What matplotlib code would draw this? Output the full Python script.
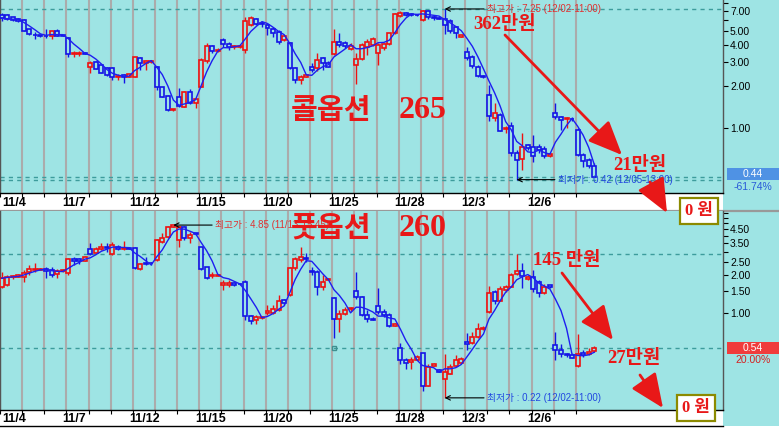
import numpy as np
import pandas as pd
import matplotlib
matplotlib.use("Agg")
import matplotlib.pyplot as plt
from matplotlib.ticker import FixedLocator, FixedFormatter, NullFormatter
from matplotlib.patches import Rectangle, FancyArrowPatch
from matplotlib.lines import Line2D

plt.rcParams['font.family'] = ['Liberation Sans', 'Noto Sans CJK KR', 'DejaVu Sans']

W, H = 779, 429
BG = "#9ee4e4"
RED = "#ee1111"
BLUE = "#1414e6"
MA_COLOR = "#1e1ef0"
GRID = "#ababab"
DASH = "#3d9c9c"
ANNO_RED = "#e81818"
BIG_FONT = ["Liberation Serif", "Noto Sans CJK KR"]
HANGUL_FONT = ["Noto Sans CJK KR"]
SMALL_FONT = ["Liberation Sans", "Noto Sans CJK KR"]

# ---------------- data ----------------
days = ['11/4', '11/5', '11/6', '11/7', '11/8', '11/11', '11/12', '11/13', '11/14',
        '11/15', '11/18', '11/19', '11/20', '11/21', '11/22', '11/25', '11/26',
        '11/27', '11/28', '11/29', '12/2', '12/3', '12/4', '12/5', '12/6', '12/9', '12/10']
label_days = ['11/4', '11/7', '11/12', '11/15', '11/20', '11/25', '11/28', '12/3', '12/6']
bars_per_day = 4
ma_period = 4

# Call option 265 (2-hour candles)
call_open = [6.60, 6.56, 6.31, 6.10, 6.03, 5.16, 4.73, 4.68, 4.65, 4.62, 5.02, 4.68,
             4.45, 3.44, 3.44, 3.48, 2.73, 2.98, 2.83, 2.70, 2.70, 2.32, 2.41, 2.32,
             2.34, 3.21, 2.96, 3.00, 2.77, 1.96, 1.70, 1.34, 1.66, 1.42, 1.80, 1.50,
             1.98, 3.02, 3.91, 3.60, 4.32, 4.07, 3.85, 3.85, 3.66, 5.55, 6.10, 5.77,
             5.52, 5.22, 4.97, 4.32, 4.09, 2.70, 2.22, 2.34, 2.77, 2.70, 3.18, 2.93,
             3.42, 4.20, 4.09, 3.70, 2.85, 3.13, 3.87, 3.98, 3.50, 3.76, 4.04, 4.83,
             6.45, 6.74, 6.67, 6.60, 6.03, 6.98, 6.38, 6.24, 6.13, 5.97, 5.34, 4.57,
             3.56, 3.23, 2.77, 2.37, 1.73, 1.17, 1.24, 0.97, 1.02, 0.65, 0.59, 0.75,
             0.73, 0.73, 0.70, 0.62, 1.28, 1.19, 1.15, 1.16, 0.96, 0.63, 0.58, 0.53]
call_high = [6.74, 6.67, 6.38, 6.20, 6.10, 5.22, 4.94, 4.73, 5.16, 5.02, 5.16, 4.70,
             4.52, 3.62, 3.58, 3.52, 3.02, 3.04, 2.88, 2.77, 2.77, 2.45, 2.45, 2.45,
             3.27, 3.27, 3.09, 3.07, 2.80, 1.98, 1.72, 1.37, 1.93, 1.83, 1.90, 1.62,
             3.18, 4.09, 3.98, 3.76, 4.45, 4.20, 4.00, 3.96, 6.38, 6.45, 6.24, 5.97,
             5.65, 5.40, 5.10, 4.70, 4.20, 2.74, 2.41, 2.45, 2.96, 3.50, 3.27, 3.02,
             5.16, 4.88, 4.27, 4.09, 3.46, 4.09, 4.37, 4.52, 4.09, 4.14, 4.88, 6.82,
             7.02, 6.89, 6.82, 6.67, 7.13, 7.13, 6.56, 6.38, 7.25, 6.10, 5.46, 4.73,
             3.87, 3.37, 2.85, 2.41, 2.04, 1.50, 1.27, 1.03, 1.09, 0.69, 0.91, 0.76,
             0.89, 0.76, 0.74, 0.65, 1.50, 1.21, 1.20, 1.19, 0.99, 0.65, 0.60, 0.55]
call_low = [5.93, 6.03, 5.93, 5.87, 5.05, 4.73, 4.42, 4.57, 4.45, 4.37, 4.62, 4.60,
            3.23, 3.27, 3.31, 3.40, 2.51, 2.65, 2.48, 2.37, 2.20, 2.22, 2.12, 2.31,
            2.32, 2.62, 2.62, 2.96, 1.88, 1.66, 1.33, 1.33, 1.40, 1.40, 1.48, 1.38,
            1.96, 2.96, 3.50, 3.56, 3.87, 3.66, 3.74, 3.78, 3.46, 5.46, 5.59, 5.40,
            4.70, 4.57, 4.04, 4.27, 2.65, 2.12, 2.07, 2.32, 2.55, 2.59, 2.62, 2.74,
            3.37, 3.87, 3.76, 3.66, 2.07, 3.09, 3.37, 3.91, 2.85, 3.66, 3.98, 4.78,
            6.38, 6.45, 6.49, 6.45, 5.97, 6.17, 6.03, 6.10, 4.78, 4.83, 4.45, 4.52,
            3.09, 2.70, 2.32, 2.28, 1.11, 1.11, 0.94, 0.91, 0.62, 0.42, 0.49, 0.69,
            0.56, 0.66, 0.60, 0.61, 1.15, 0.96, 0.99, 1.12, 0.62, 0.52, 0.51, 0.44]
call_close = [6.20, 6.10, 6.03, 5.97, 5.05, 4.78, 4.68, 4.62, 4.60, 5.02, 4.65, 4.62,
              3.42, 3.48, 3.50, 3.44, 2.96, 2.67, 2.51, 2.41, 2.32, 2.37, 2.32, 2.44,
              3.23, 2.96, 3.02, 3.04, 1.96, 1.68, 1.34, 1.36, 1.44, 1.80, 1.52, 1.61,
              3.09, 3.91, 3.62, 3.66, 4.02, 3.87, 3.89, 3.89, 5.97, 6.20, 5.65, 5.65,
              5.25, 4.83, 4.20, 4.62, 2.70, 2.22, 2.34, 2.40, 2.62, 3.09, 2.96, 2.77,
              4.20, 3.98, 3.91, 3.91, 3.13, 3.98, 4.20, 4.37, 3.98, 4.04, 4.83, 6.67,
              6.82, 6.60, 6.56, 6.52, 7.02, 6.31, 6.24, 6.17, 5.55, 5.05, 4.88, 4.68,
              3.18, 2.80, 2.37, 2.32, 1.21, 1.27, 0.95, 1.00, 0.65, 0.58, 0.73, 0.71,
              0.62, 0.69, 0.62, 0.64, 1.19, 1.14, 1.18, 1.15, 0.63, 0.57, 0.53, 0.44]

# Put option 260 (2-hour candles)
put_open = [1.61, 1.66, 1.90, 1.93, 1.91, 2.11, 2.17, 2.18, 2.20, 2.17, 2.03, 2.12,
            2.07, 2.63, 2.63, 2.57, 3.15, 2.96, 3.15, 3.30, 2.90, 3.30, 3.17, 3.22,
            3.20, 2.20, 2.48, 2.47, 2.60, 3.61, 3.89, 4.72, 3.68, 4.66, 3.83, 4.19,
            3.26, 2.27, 1.95, 1.96, 1.66, 1.67, 1.71, 1.70, 1.76, 0.95, 0.88, 0.92,
            1.01, 1.01, 1.06, 1.27, 1.39, 2.23, 2.60, 2.71, 2.15, 2.11, 1.61, 1.82,
            1.31, 0.90, 0.99, 1.07, 1.50, 1.33, 0.97, 0.91, 1.14, 1.03, 0.97, 0.80,
            0.54, 0.43, 0.42, 0.43, 0.49, 0.27, 0.39, 0.36, 0.31, 0.34, 0.39, 0.41,
            0.60, 0.59, 0.65, 0.76, 1.03, 1.47, 1.25, 1.52, 1.61, 2.03, 2.15, 1.84,
            1.93, 1.76, 1.43, 1.65, 0.57, 0.52, 0.48, 0.47, 0.39, 0.49, 0.48, 0.51]
put_high = [2.11, 1.99, 1.99, 2.03, 2.17, 2.37, 2.45, 2.23, 2.30, 2.27, 2.20, 2.20,
            2.68, 2.76, 2.68, 2.79, 3.54, 3.26, 3.50, 3.54, 3.61, 3.40, 3.67, 3.26,
            3.26, 2.48, 2.76, 2.52, 3.76, 4.19, 4.80, 4.85, 4.78, 4.78, 4.31, 4.24,
            3.30, 2.30, 2.11, 2.01, 1.82, 1.80, 1.75, 1.73, 1.82, 0.97, 0.97, 0.95,
            1.16, 1.16, 1.39, 1.28, 2.27, 2.76, 3.26, 2.93, 2.30, 2.17, 1.99, 1.88,
            1.34, 1.06, 1.12, 1.12, 2.11, 1.36, 1.06, 0.93, 1.56, 1.07, 1.00, 0.84,
            0.59, 0.45, 0.46, 0.47, 0.49, 0.40, 0.41, 0.37, 0.48, 0.40, 0.47, 0.46,
            0.70, 0.72, 0.84, 0.79, 1.63, 1.52, 1.63, 1.66, 2.07, 2.90, 2.45, 1.99,
            2.17, 1.80, 1.69, 1.67, 0.72, 0.58, 0.49, 0.48, 0.69, 0.52, 0.54, 0.56]
put_low = [1.56, 1.63, 1.85, 1.91, 1.76, 1.99, 2.10, 2.16, 1.87, 1.93, 1.87, 2.10,
           1.99, 2.37, 2.42, 2.56, 2.85, 2.93, 3.11, 3.02, 2.85, 3.11, 3.13, 3.15,
           2.20, 2.17, 2.37, 2.39, 2.57, 3.54, 3.83, 4.66, 3.30, 3.68, 3.50, 4.06,
           2.17, 1.85, 1.87, 1.94, 1.52, 1.59, 1.63, 1.65, 0.89, 0.83, 0.83, 0.91,
           0.97, 0.99, 1.05, 1.16, 1.36, 2.17, 2.52, 2.52, 1.99, 1.39, 1.52, 1.80,
           0.64, 0.72, 0.97, 1.05, 1.28, 0.95, 0.85, 0.88, 0.99, 0.94, 0.78, 0.79,
           0.40, 0.37, 0.37, 0.43, 0.25, 0.27, 0.39, 0.35, 0.22, 0.34, 0.38, 0.41,
           0.52, 0.58, 0.64, 0.74, 1.01, 1.18, 1.24, 1.47, 1.59, 1.99, 1.56, 1.82,
           1.47, 1.35, 1.41, 1.56, 0.43, 0.46, 0.46, 0.45, 0.38, 0.46, 0.47, 0.50]
put_close = [1.87, 1.93, 1.95, 1.99, 2.07, 2.20, 2.22, 2.21, 2.15, 1.99, 2.13, 2.17,
             2.63, 2.57, 2.57, 2.76, 2.90, 3.18, 3.30, 3.22, 3.38, 3.15, 3.24, 3.18,
             2.23, 2.42, 2.42, 2.44, 3.72, 3.87, 4.72, 4.83, 4.66, 3.83, 4.06, 4.14,
             2.20, 1.87, 2.00, 1.99, 1.71, 1.71, 1.67, 1.68, 0.95, 0.87, 0.93, 0.94,
             1.04, 1.07, 1.25, 1.20, 2.23, 2.65, 2.73, 2.65, 2.10, 1.59, 1.75, 1.86,
             0.90, 0.98, 1.06, 1.09, 1.33, 0.97, 0.91, 0.89, 1.03, 0.97, 0.79, 0.82,
             0.43, 0.41, 0.43, 0.46, 0.27, 0.38, 0.40, 0.35, 0.35, 0.38, 0.43, 0.44,
             0.58, 0.65, 0.76, 0.77, 1.43, 1.24, 1.55, 1.61, 2.00, 2.12, 1.95, 1.93,
             1.54, 1.43, 1.61, 1.59, 0.52, 0.48, 0.47, 0.45, 0.48, 0.47, 0.50, 0.54]

call_levels = [7.25, 0.44, 0.42]
put_levels = [2.90, 0.54]
call_major = [1.0, 2.0, 3.0, 4.0, 5.0, 7.0]
call_minor = [6.0, 8.0]
put_major = [1.0, 1.5, 2.0, 2.5, 3.5, 4.5]
put_minor = [3.0, 4.0, 5.0, 5.5, 6.0]
call_last, call_change = 0.44, "-61.74%"
put_last, put_change = 0.54, "20.00%"
put_marker_idx, put_marker_val = [60], [0.54]

# ---------------- figure ----------------
fig = plt.figure(figsize=(W / 100, H / 100), dpi=100)
fig.patch.set_facecolor(BG)


def fx(px):
    return px / W


def fy(py):
    return 1 - py / H


ax1 = fig.add_axes([0, fy(193), fx(723), 193 / H])
ax2 = fig.add_axes([0, fy(410), fx(723), (410 - 211) / H])

# white date bands
for (y0, y1) in [(193, 210), (410, 426)]:
    fig.add_artist(Rectangle((0, fy(y1)), fx(723), (y1 - y0) / H, transform=fig.transFigure,
                             facecolor="white", edgecolor="none", zorder=-5))
fig.add_artist(Rectangle((0, 0), 1, 3 / H, transform=fig.transFigure,
                         facecolor="white", edgecolor="none", zorder=-5))
fig.add_artist(Line2D([0, fx(723)], [fy(426), fy(426)], transform=fig.transFigure,
                      color="black", lw=1.0))
fig.add_artist(Line2D([0, 1], [fy(210.5), fy(210.5)], transform=fig.transFigure,
                      color="#999999", lw=1.6, zorder=-1))

n = len(call_open)
grid_x = np.arange(len(days)) * bars_per_day - 0.307
xlim = (-0.307, 130.26)


def draw_panel(ax, o, h, l, c, ylim, majors, minors, levels):
    o, h, l, c = map(np.asarray, (o, h, l, c))
    x = np.arange(len(o))
    ax.set_facecolor(BG)
    ax.set_yscale("log")
    ax.set_xlim(*xlim)
    ax.set_ylim(*ylim)
    for gx in grid_x:
        ax.axvline(gx, color=GRID, lw=1.5, zorder=1)
    for lv in levels:
        ax.axhline(lv, color=DASH, lw=1.0, ls=(0, (3, 3)), zorder=2)
    up = c >= o
    cols = np.where(up, RED, BLUE)
    ax.vlines(x, l, h, colors=cols, lw=1.0, zorder=3)
    bottom = np.minimum(o, c)
    height = np.maximum(np.abs(c - o), bottom * 0.008)
    ax.bar(x, height, bottom=bottom, width=0.72, facecolor=BG, edgecolor=cols,
           linewidth=1.2, zorder=4)
    ma = pd.Series(c).rolling(ma_period, min_periods=1).mean()
    ax.plot(x, ma, color=MA_COLOR, lw=1.0, zorder=5)
    # axes styling
    ax.yaxis.tick_right()
    ax.yaxis.set_major_locator(FixedLocator(majors))
    ax.yaxis.set_major_formatter(FixedFormatter([f"{v:.2f}" for v in majors]))
    ax.yaxis.set_minor_locator(FixedLocator(minors))
    ax.yaxis.set_minor_formatter(NullFormatter())
    ax.tick_params(axis="y", which="both", direction="out", length=3.5, width=0.8,
                   labelsize=7.5, pad=1.5, colors="black")
    ax.set_xticks(grid_x)
    ax.set_xticklabels([])
    ax.tick_params(axis="x", direction="out", length=3, width=0.8, colors="black")
    for sp in ["left", "right"]:
        ax.spines[sp].set_color("#555555")
        ax.spines[sp].set_linewidth(1.0)
    ax.spines["top"].set_visible(False)
    ax.spines["bottom"].set_color("black")
    ax.spines["bottom"].set_linewidth(1.0)
    # date labels
    for lbl in label_days:
        d = days.index(lbl)
        off = 2 if d == 0 else -4
        ax.annotate(lbl, xy=(grid_x[d], 0), xycoords=("data", "axes fraction"),
                    xytext=(off * 0.72, -9.5 * 0.72), textcoords="offset points",
                    ha="left", va="center", fontsize=9, fontweight="bold",
                    family=SMALL_FONT, annotation_clip=False)


draw_panel(ax1, call_open, call_high, call_low, call_close, (0.336, 8.42),
           call_major, call_minor, call_levels)
draw_panel(ax2, put_open, put_high, put_low, put_close, (0.177, 6.24),
           put_major, put_minor, put_levels)
ax2.plot(put_marker_idx, put_marker_val, marker="s", ms=3.5, mfc="none", mec="#3f8f8f",
         mew=1.0, ls="none", zorder=6)

# high / low annotations
ci_hi = int(np.argmax(call_high))
ci_lo = int(np.argmin(call_low))
pi_hi = int(np.argmax(put_high))
pi_lo = int(np.argmin(put_low))


def hl_note(ax, idx, val, xtext, text, color):
    ax.annotate(text, xy=(idx, val), xytext=(xtext, val), xycoords="data",
                textcoords="data", ha="left", va="center", fontsize=7, color=color,
                family=SMALL_FONT, zorder=7,
                arrowprops=dict(arrowstyle="->", color="black", lw=0.8,
                                shrinkA=0, shrinkB=0, mutation_scale=8))


hl_note(ax1, ci_hi, max(call_high), 87.6, f"최고가 : {max(call_high):.2f} (12/02-11:00)", "#e03030")
hl_note(ax1, ci_lo, min(call_low), 100.4, f"최저가 : {min(call_low):.2f} (12/05-13:00)", "#2248e0")
hl_note(ax2, pi_hi, max(put_high), 38.5, f"최고가 : {max(put_high):.2f} (11/13-15:45)", "#e03030")
hl_note(ax2, pi_lo, min(put_low), 87.6, f"최저가 : {min(put_low):.2f} (12/02-11:00)", "#2248e0")

# big titles (Hangul word and strike number)
for (y, word, num) in [(110, "콜옵션", "265"), (228, "풋옵션", "260")]:
    fig.text(fx(331), fy(y), word, ha="center", va="center", fontsize=21,
             fontweight="bold", color=ANNO_RED, family=HANGUL_FONT, zorder=30)
    fig.text(fx(423), fy(y + 1), num, ha="center", va="center", fontsize=23,
             fontweight="bold", color=ANNO_RED, family=BIG_FONT, zorder=30)

# value notes
for (x, y, t) in [(505, 24, "362만원"), (640, 165, "21만원"), (567, 260, "145 만원"),
                  (634, 358, "27만원")]:
    fig.text(fx(x), fy(y), t, ha="center", va="center", fontsize=13.5, fontweight="bold",
             color=ANNO_RED, family=BIG_FONT, zorder=30)

for (x, y) in [(699, 211), (696, 408)]:
    fig.text(fx(x), fy(y), "0 원", ha="center", va="center", fontsize=12, fontweight="bold",
             color=ANNO_RED, family=BIG_FONT, zorder=31,
             bbox=dict(boxstyle="square,pad=0.3", fc="white", ec="#8c8a00", lw=1.6))


def red_arrow(x0, y0, x1, y1):
    p = FancyArrowPatch((fx(x0), fy(y0)), (fx(x1), fy(y1)), transform=fig.transFigure,
                        arrowstyle="-|>,head_length=1.5,head_width=0.65", mutation_scale=14,
                        color=ANNO_RED, lw=2.0, shrinkA=0, shrinkB=0, zorder=29)
    fig.add_artist(p)


red_arrow(505, 35, 622, 155)
red_arrow(650, 182, 667, 213)
red_arrow(562, 273, 613, 340)
red_arrow(640, 375, 663, 408)

# last price boxes on the right scale
fig.add_artist(Rectangle((fx(727), fy(180)), fx(52), 12 / H, transform=fig.transFigure,
                         facecolor="#4f92e4", edgecolor="none", zorder=20))
fig.text(fx(753), fy(174), f"{call_last:.2f}", ha="center", va="center", fontsize=7.5,
         color="white", family=SMALL_FONT, zorder=21)
fig.text(fx(753), fy(187), call_change, ha="center", va="center", fontsize=7.5,
         color="#2a5ad8", family=SMALL_FONT, zorder=21)
fig.add_artist(Rectangle((fx(727), fy(354)), fx(52), 12 / H, transform=fig.transFigure,
                         facecolor="#f03c3c", edgecolor="none", zorder=20))
fig.text(fx(753), fy(348), f"{put_last:.2f}", ha="center", va="center", fontsize=7.5,
         color="white", family=SMALL_FONT, zorder=21)
fig.text(fx(753), fy(360), put_change, ha="center", va="center", fontsize=7.5,
         color="#d42020", family=SMALL_FONT, zorder=21)

fig.savefig("out.png", dpi=100, facecolor=fig.get_facecolor())
